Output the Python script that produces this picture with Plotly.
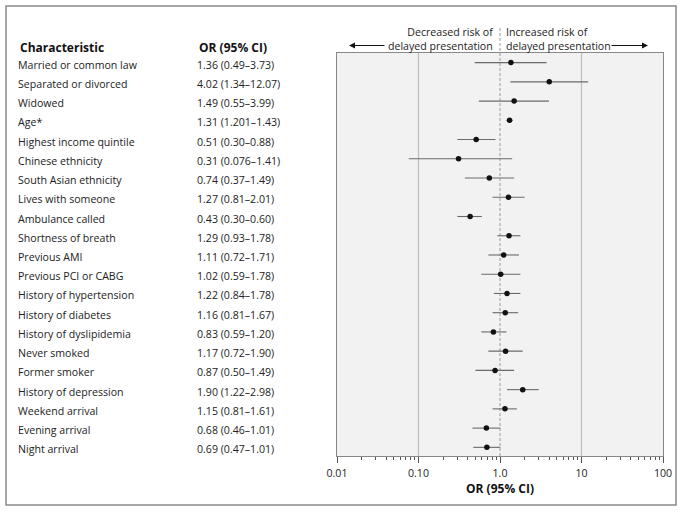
import plotly.graph_objects as go

characteristics = [
    "Married or common law", "Separated or divorced", "Widowed", "Age*",
    "Highest income quintile", "Chinese ethnicity", "South Asian ethnicity",
    "Lives with someone", "Ambulance called", "Shortness of breath",
    "Previous AMI", "Previous PCI or CABG", "History of hypertension",
    "History of diabetes", "History of dyslipidemia", "Never smoked",
    "Former smoker", "History of depression", "Weekend arrival",
    "Evening arrival", "Night arrival",
]
or_values = [1.36, 4.02, 1.49, 1.31, 0.51, 0.31, 0.74, 1.27, 0.43, 1.29,
             1.11, 1.02, 1.22, 1.16, 0.83, 1.17, 0.87, 1.90, 1.15, 0.68, 0.69]
ci_low = [0.49, 1.34, 0.55, 1.201, 0.30, 0.076, 0.37, 0.81, 0.30, 0.93,
          0.72, 0.59, 0.84, 0.81, 0.59, 0.72, 0.50, 1.22, 0.81, 0.46, 0.47]
ci_high = [3.73, 12.07, 3.99, 1.43, 0.88, 1.41, 1.49, 2.01, 0.60, 1.78,
           1.71, 1.78, 1.78, 1.67, 1.20, 1.90, 1.49, 2.98, 1.61, 1.01, 1.01]
ci_text = ["1.36 (0.49–3.73)", "4.02 (1.34–12.07)", "1.49 (0.55–3.99)",
           "1.31 (1.201–1.43)", "0.51 (0.30–0.88)", "0.31 (0.076–1.41)",
           "0.74 (0.37–1.49)", "1.27 (0.81–2.01)", "0.43 (0.30–0.60)",
           "1.29 (0.93–1.78)", "1.11 (0.72–1.71)", "1.02 (0.59–1.78)",
           "1.22 (0.84–1.78)", "1.16 (0.81–1.67)", "0.83 (0.59–1.20)",
           "1.17 (0.72–1.90)", "0.87 (0.50–1.49)", "1.90 (1.22–2.98)",
           "1.15 (0.81–1.61)", "0.68 (0.46–1.01)", "0.69 (0.47–1.01)"]
tick_vals = [0.01, 0.1, 1, 10, 100]
tick_text = ["0.01", "0.10", "1.0", "10", "100"]
minor_vals = [m * 10 ** e for e in (-2, -1, 0, 1) for m in range(2, 10)]

FONT = "Open Sans"
W, H = 684, 512
L, R, T, B = 337, 21, 53, 56
pw, ph = W - L - R, H - T - B

def px_x(p):
    return (p - L) / pw

def px_y(p):
    return (H - B - p) / ph

rows = list(range(len(characteristics)))

fig = go.Figure()
fig.add_trace(go.Scatter(
    x=or_values, y=rows, mode="markers",
    marker=dict(color="#111111", size=5.5),
    error_x=dict(type="data", symmetric=False,
                 array=[h - v for h, v in zip(ci_high, or_values)],
                 arrayminus=[v - l for v, l in zip(or_values, ci_low)],
                 color="#6a6a6a", thickness=1.1, width=0),
    showlegend=False, hoverinfo="skip",
))

def txt(x, y, text, anchor="left", size=10.6, color="#222", yref="paper", yshift=0,
        align="left"):
    return dict(x=x, y=y, xref="paper", yref=yref, text=text, showarrow=False,
                xanchor=anchor, yanchor="middle", yshift=yshift, align=align,
                font=dict(size=size, color=color, family=FONT))

annotations = [
    txt(px_x(18), px_y(47), "<b>Characteristic</b>", size=12, color="#111"),
    txt(px_x(197), px_y(47), "<b>OR (95% CI)</b>", size=12, color="#111"),
    txt(px_x(496), px_y(39.5), "Decreased risk of<br>delayed presentation",
        anchor="right", align="right"),
    txt(px_x(504), px_y(39.5), "Increased risk of<br>delayed presentation"),
    dict(x=0.5, y=px_y(488.5), xref="paper", yref="paper", text="<b>OR (95% CI)</b>",
         showarrow=False, xanchor="center", yanchor="middle",
         font=dict(size=12, color="#111", family=FONT)),
]
for i, (lab, t) in enumerate(zip(characteristics, ci_text)):
    annotations.append(txt(px_x(16), i, lab, yref="y", yshift=-2))
    annotations.append(txt(px_x(195), i, t, yref="y", yshift=-2))
annotations.append(dict(x=px_x(349), y=px_y(45.5), xref="paper", yref="paper", text="",
                        showarrow=True, ax=37, ay=0, arrowhead=2, arrowsize=1,
                        arrowwidth=1.2, arrowcolor="#111"))
annotations.append(dict(x=px_x(648), y=px_y(45.5), xref="paper", yref="paper", text="",
                        showarrow=True, ax=-38, ay=0, arrowhead=2, arrowsize=1,
                        arrowwidth=1.2, arrowcolor="#111"))

shapes = []
for gv in [0.1, 10]:
    shapes.append(dict(type="line", xref="x", yref="paper", x0=gv, x1=gv, y0=0, y1=1,
                       line=dict(color="#bdbdbd", width=1.2), layer="below"))
shapes.append(dict(type="line", xref="x", yref="paper", x0=1, x1=1, y0=0, y1=px_y(27),
                   line=dict(color="#9a9a9a", width=1, dash="3px,2px"), layer="below"))
shapes.append(dict(type="rect", xref="paper", yref="paper",
                   x0=px_x(6), x1=px_x(676), y0=px_y(505), y1=px_y(6),
                   line=dict(color="#8a8a8a", width=1.5), fillcolor="rgba(0,0,0,0)",
                   layer="above"))

fig.update_layout(
    width=W, height=H,
    margin=dict(l=L, r=R, t=T, b=B),
    paper_bgcolor="white", plot_bgcolor="#f2f2f2",
    font=dict(family=FONT, size=11, color="#222"),
    annotations=annotations, shapes=shapes,
    xaxis=dict(type="log", range=[-2, 2], tickvals=tick_vals, ticktext=tick_text,
               ticks="outside", ticklen=6, tickcolor="#555", showgrid=False,
               zeroline=False, showline=True, linecolor="#888", linewidth=1, mirror=True,
               tickfont=dict(size=10.6, color="#222", family=FONT), ticklabelstandoff=1,
               minor=dict(ticks="outside", ticklen=3, tickcolor="#555",
                          tickmode="array", tickvals=minor_vals, showgrid=False)),
    yaxis=dict(range=[20.45, -0.5], showticklabels=False, showgrid=False,
               zeroline=False, ticks="", showline=True, linecolor="#888",
               linewidth=1, mirror=True),
)

fig.write_html("out.html", config={"displayModeBar": False})
with open("out.html", encoding="utf-8") as f:
    html = f.read()
html = html.replace("<head>", "<head><style>html,body{margin:0;padding:0;overflow:hidden;}</style>", 1)
with open("out.html", "w", encoding="utf-8") as f:
    f.write(html)
